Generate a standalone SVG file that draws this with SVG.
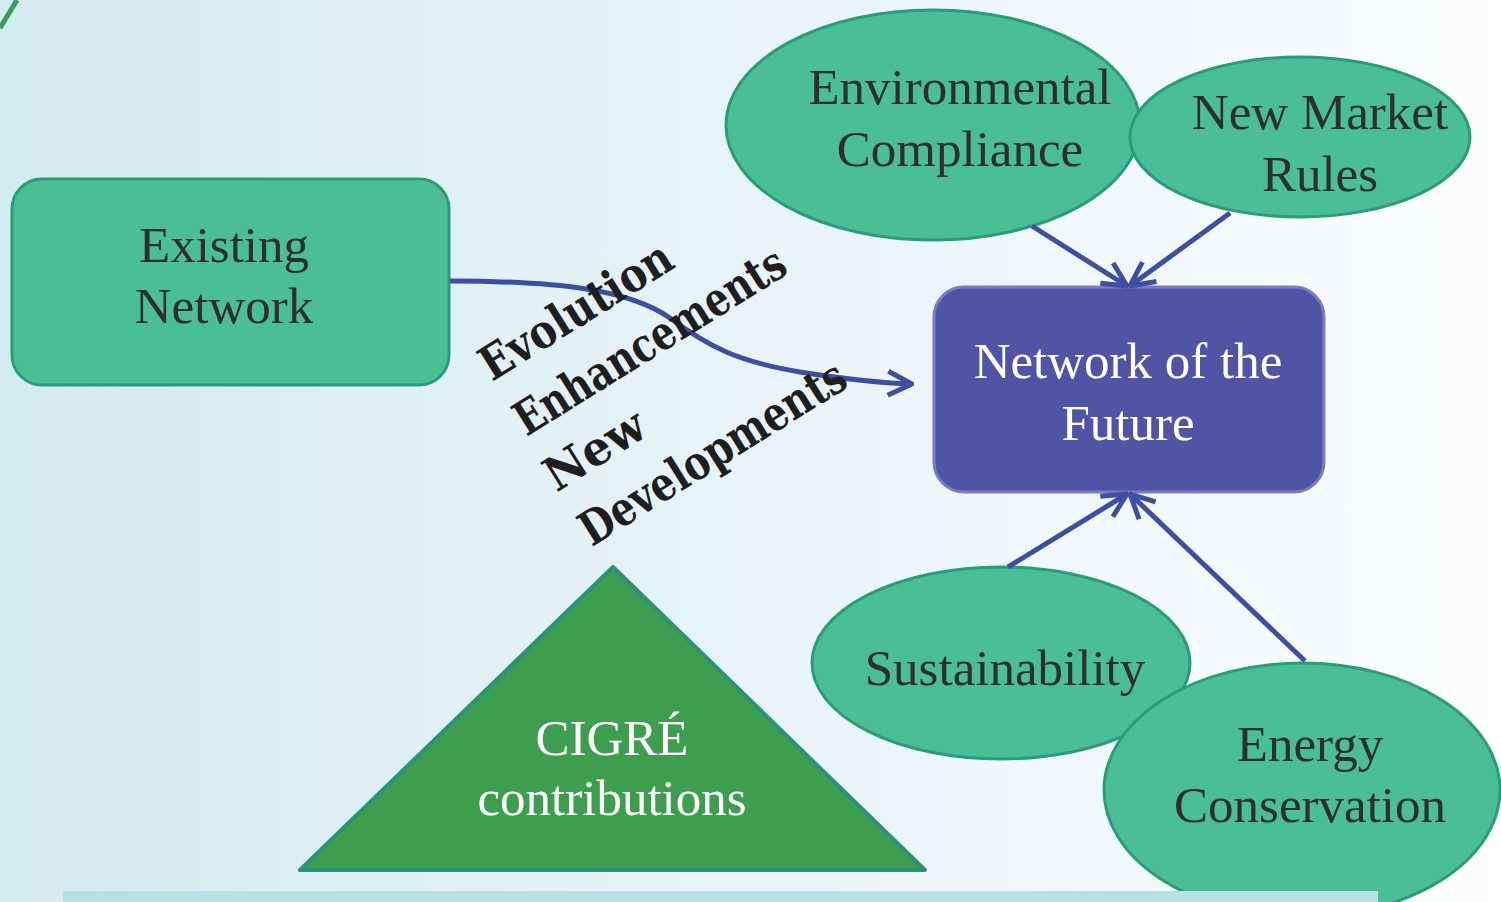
<svg xmlns="http://www.w3.org/2000/svg" width="1501" height="902" viewBox="0 0 1501 902">
  <defs>
    <linearGradient id="bg" x1="0" y1="0" x2="1" y2="0">
      <stop offset="0" stop-color="#d4ebef"/>
      <stop offset="0.55" stop-color="#eaf5f9"/>
      <stop offset="1" stop-color="#fbfdfe"/>
    </linearGradient>
    <marker id="arr" markerUnits="userSpaceOnUse" viewBox="0 0 30 30" refX="28" refY="15" markerWidth="30" markerHeight="30" orient="auto">
      <path d="M4,3 L28,15 L4,27" fill="none" stroke="#3d4ea3" stroke-width="5" stroke-linejoin="miter"/>
    </marker>
    <style>
      .g { fill: #4abe97; stroke: #2a9d78; stroke-width: 3; }
      .lbl { font-family: "Liberation Serif", "Times New Roman", serif; font-size: 51px; fill: #2e2e2e; text-anchor: middle; }
      .wl { font-family: "Liberation Serif", "Times New Roman", serif; font-size: 51px; fill: #ffffff; text-anchor: middle; }
      .rot { font-family: "DejaVu Serif", serif; font-weight: bold; font-size: 47px; fill: #1e1e1e; }
      .conn { fill: none; stroke: #3d4ea3; stroke-width: 5; }
    </style>
  </defs>
  <rect x="0" y="0" width="1501" height="902" fill="url(#bg)"/>
  <path d="M0,28 L17,0" stroke="#3a9a5a" stroke-width="5" fill="none"/>

  <g id="existing-network">
    <rect class="g" x="12" y="179" width="437" height="206" rx="30"/>
    <text class="lbl" x="224" y="262">Existing</text>
    <text class="lbl" x="224" y="323">Network</text>
  </g>

  <g id="environmental-compliance">
    <ellipse class="g" cx="933" cy="125" rx="207" ry="115"/>
    <text class="lbl" x="960" y="104">Environmental</text>
    <text class="lbl" x="960" y="166">Compliance</text>
  </g>

  <g id="new-market-rules">
    <ellipse class="g" cx="1300" cy="137" rx="170" ry="80"/>
    <text class="lbl" x="1320" y="129">New Market</text>
    <text class="lbl" x="1320" y="191">Rules</text>
  </g>

  <g id="network-of-the-future">
    <rect x="934" y="287" width="390" height="205" rx="30" fill="#5054a4" stroke="#7b7cc0" stroke-width="3"/>
    <text class="wl" x="1128" y="378">Network of the</text>
    <text class="wl" x="1128" y="440">Future</text>
  </g>

  <g id="sustainability">
    <ellipse class="g" cx="1001" cy="663" rx="189" ry="96"/>
    <text class="lbl" x="1005" y="685">Sustainability</text>
  </g>

  <g id="energy-conservation">
    <ellipse class="g" cx="1302" cy="790" rx="198" ry="127"/>
    <text class="lbl" x="1310" y="761">Energy</text>
    <text class="lbl" x="1310" y="822">Conservation</text>
  </g>

  <g id="cigre-contributions">
    <polygon points="613,567 300,870 925,870" fill="#3e9e50" stroke="#2a9278" stroke-width="4" stroke-linejoin="round"/>
    <text class="wl" x="612" y="755">CIGRÉ</text>
    <text class="wl" x="612" y="815">contributions</text>
  </g>

  <rect x="63" y="891" width="1315" height="11" fill="#b9e0e2"/>

  <g id="connectors">
    <path class="conn" d="M450,281 C560,281 630,290 670,318 C710,348 740,362 800,372 C850,380 880,383 912,384" marker-end="url(#arr)"/>
    <line class="conn" x1="1032" y1="226" x2="1127" y2="286" marker-end="url(#arr)"/>
    <line class="conn" x1="1230" y1="213" x2="1130" y2="286" marker-end="url(#arr)"/>
    <line class="conn" x1="1008" y1="567" x2="1127" y2="494" marker-end="url(#arr)"/>
    <line class="conn" x1="1305" y1="661" x2="1130" y2="494" marker-end="url(#arr)"/>
  </g>

  <g id="connector-label" transform="translate(492,382) rotate(-32)">
    <text class="rot" x="0" y="0" textLength="218" lengthAdjust="spacingAndGlyphs">Evolution</text>
    <text class="rot" x="0" y="65" textLength="311" lengthAdjust="spacingAndGlyphs">Enhancements</text>
    <text class="rot" x="-4" y="128" textLength="110" lengthAdjust="spacingAndGlyphs">New</text>
    <text class="rot" x="-3" y="193" textLength="305" lengthAdjust="spacingAndGlyphs">Developments</text>
  </g>
</svg>
